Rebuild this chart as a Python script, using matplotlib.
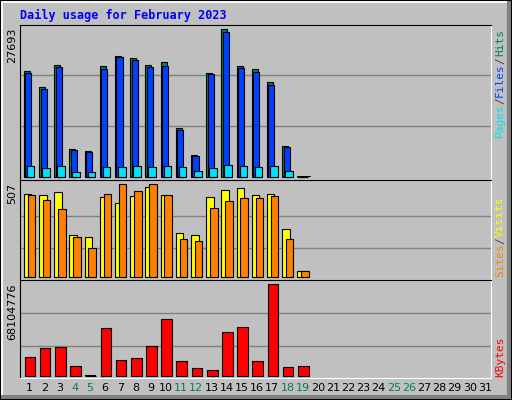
import matplotlib
matplotlib.use("Agg")
import matplotlib.pyplot as plt
import numpy as np

days = list(range(1, 32))
hits = [19800, 16790, 20930, 5140, 4760, 20740, 22620, 22240, 20930, 21490,
        9080, 4010, 19420, 27693, 20740, 20170, 17730, 5700, 0]
files = [19420, 16410, 20550, 4950, 4570, 20170, 22430, 21860, 20550, 20740,
         8710, 3820, 19230, 27130, 20360, 19610, 17170, 5510, 0]
pages = [2000, 1570, 2000, 810, 810, 1750, 1750, 2000, 1750, 2000,
         1750, 1000, 1570, 2130, 2000, 1750, 2000, 1000, 0]
visits = [457, 448, 463, 232, 221, 436, 403, 441, 491, 447,
          238, 227, 436, 474, 485, 447, 457, 265, 35]
sites = [448, 419, 370, 216, 161, 457, 507, 469, 507, 447,
         205, 194, 375, 414, 430, 430, 441, 210, 35]
kbytes = [13.9e6, 20.6e6, 21.3e6, 7.2e6, 0, 35.4e6, 11.6e6, 13.1e6, 22.0e6, 42.1e6,
          10.9e6, 5.7e6, 4.2e6, 32.4e6, 36.2e6, 10.9e6, 68104776, 6.4e6, 7.2e6]
weekends = [4, 5, 11, 12, 18, 19, 25, 26]

W, H = 512, 400
bg = "#c0c0c0"
fig = plt.figure(figsize=(W / 100, H / 100), dpi=100, facecolor=bg)

# 3d-ish outer frame
fig.add_artist(plt.Line2D([1 / W, 1 / W, 1 - 1 / W], [2 / H, 1 - 1 / H, 1 - 1 / H],
                          color="white", lw=2))
fig.add_artist(plt.Line2D([2 / W, 1 - 3 / W, 1 - 3 / W], [3 / H, 3 / H, 1 - 2 / H],
                          color="#808080", lw=3))
fig.add_artist(plt.Line2D([0, 1, 1, 0, 0], [0, 0, 1, 1, 0], color="black", lw=1.5))

mono = "DejaVu Sans Mono"
fig.text(20 / W, 1 - 15 / H, "Daily usage for February 2023", color="#0000ff",
         fontfamily=mono, fontweight="bold", fontsize=8.5, va="center")


def make_ax(top, bottom):
    ax = fig.add_axes([20 / W, 1 - bottom / H, (491 - 20) / W, (bottom - top) / H])
    ax.set_facecolor(bg)
    ax.set_xlim(0.4, 31.4)
    ax.set_xticks([])
    ax.set_yticks([])
    for side in ["top", "left"]:
        ax.spines[side].set_color("black")
    for side in ["bottom", "right"]:
        ax.spines[side].set_color("white")
    return ax


n = len(hits)
x = np.arange(1, n + 1)
edge = dict(edgecolor="black", linewidth=0.8, align="edge")

ax1 = make_ax(25, 180)
ax1.set_ylim(-620, 28508)
for g in [9600, 19200]:
    ax1.axhline(g, color="#808080", lw=1, zorder=0)
ax1.bar(x - 0.35, hits, 0.4, color="#00805c", **edge)
ax1.bar(x - 0.25, files, 0.4, color="#0040ff", **edge)
ax1.bar(x - 0.15, pages, 0.5, color="#00e0ff", **edge)
ax1.bar(x[-1] - 0.35, 120, 0.9, color="black", align="edge")

ax2 = make_ax(180, 280)
ax2.set_ylim(-17, 531)
for g in [159, 332]:
    ax2.axhline(g, color="#808080", lw=1, zorder=0)
ax2.bar(x - 0.35, visits, 0.5, color="#ffff00", **edge)
ax2.bar(x - 0.1, sites, 0.5, color="#ff8000", **edge)

ax3 = make_ax(280, 378)
ax3.set_ylim(-1.5e6, 71.3e6)
for g in [22.3e6, 46.6e6]:
    ax3.axhline(g, color="#808080", lw=1, zorder=0)
ax3.bar(x - 0.3, kbytes, 0.7, color="#ff0000", **edge)
ax3.bar(5 - 0.3, 0.6e6, 0.7, color="black", align="edge")

# left max labels
for top, txt in [(25, "27693"), (180, "507"), (280, "68104776")]:
    fig.text(12 / W, 1 - (top + 3) / H, txt, rotation=90, ha="center", va="top",
             fontsize=8, color="black")

# day labels
for d in days:
    xf = (20 + (d - 0.4 + 0.0) * 471 / 31) / W
    fig.text(xf, 1 - 388 / H, str(d), ha="center", va="center", fontsize=8,
             color="#00805c" if d in weekends else "black")

# right side legends, stacked bottom-to-top
def side_label(parts, y_bottom):
    y = y_bottom
    for txt, col in parts:
        t = fig.text(500 / W, 1 - y / H, txt, rotation=90, ha="center", va="bottom",
                     fontfamily=mono, fontsize=8, color=col)
        y -= len(txt) * 6.4 + 1


side_label([("Pages", "#00e0ff"), ("/", "#404040"), ("Files", "#0040ff"),
            ("/", "#404040"), ("Hits", "#00805c")], 137)
side_label([("Sites", "#ff8000"), ("/", "#404040"), ("Visits", "#ffff00")], 277)
side_label([("KBytes", "#ff0000")], 377)

fig.savefig("out.png", dpi=100, facecolor=bg)
